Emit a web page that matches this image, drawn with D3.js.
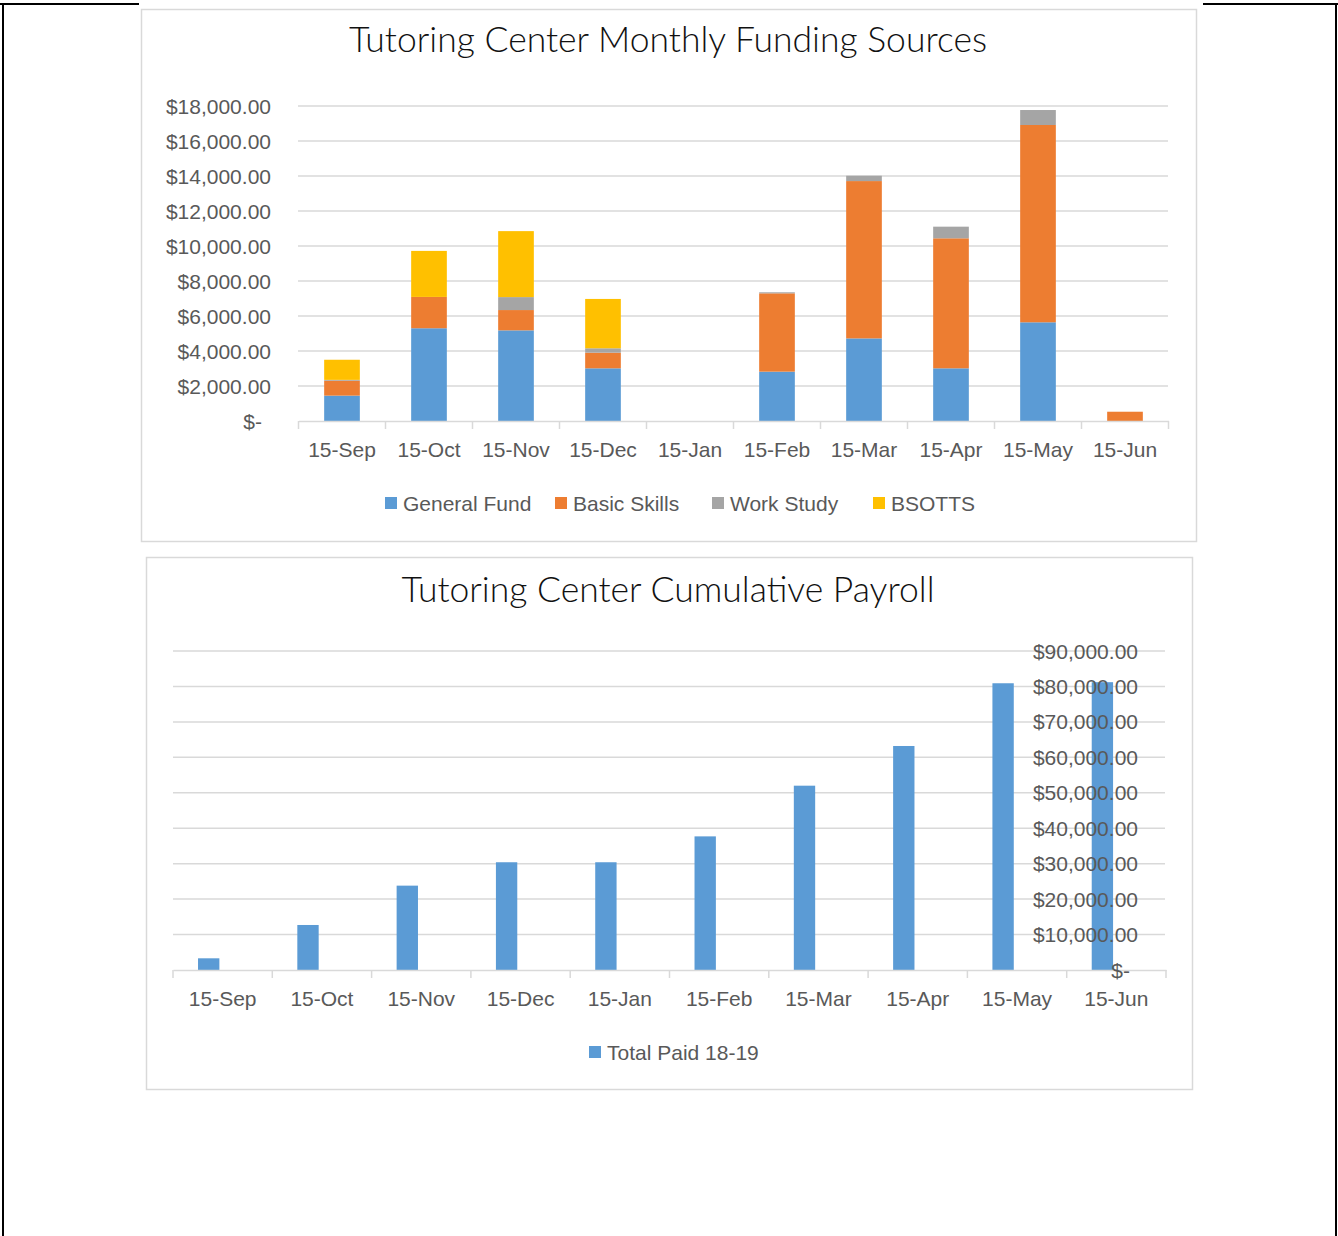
<!DOCTYPE html>
<html lang="en">
<head>
    <meta charset="utf-8">
    <title>Tutoring Center Funding</title>
    <script src="https://cdn.jsdelivr.net/npm/d3@7"></script>
</head>
<style>
    body {
        margin: 0;
        padding: 0;
        background-color: #fff;
    }
    .chart-title {
        font-family: Lato, sans-serif;
        font-size: 35.5px;
        font-weight: 300;
        fill: #111;
    }
    .tick-label, .legend {
        font-family: "Liberation Sans", Arial, sans-serif;
        font-size: 21px;
        fill: #595959;
    }
    .grid line {
        stroke: #d9d9d9;
        stroke-width: 1.5;
    }
</style>
<body>
    <svg width="1338" height="1236" id="page"></svg>

    <script>
        // data
        var months = ["15-Sep", "15-Oct", "15-Nov", "15-Dec", "15-Jan", "15-Feb", "15-Mar", "15-Apr", "15-May", "15-Jun"];
        var fundKeys = ["General Fund", "Basic Skills", "Work Study", "BSOTTS"];
        var generalFund = [1450, 5300, 5180, 3010, 0, 2820, 4720, 3010, 5640, 0];
        var basicSkills = [850, 1790, 1160, 895, 0, 4475, 8990, 7430, 11275, 530];
        var workStudy   = [50, 0, 740, 250, 0, 60, 305, 665, 855, 0];
        var bsotts      = [1150, 2630, 3770, 2820, 0, 0, 0, 0, 0, 0];
        var fundTicks = [0, 2000, 4000, 6000, 8000, 10000, 12000, 14000, 16000, 18000];

        var totalPaid = [3300, 12700, 23800, 30400, 30400, 37700, 52000, 63200, 80900, 81200];
        var payrollTicks = [0, 10000, 20000, 30000, 40000, 50000, 60000, 70000, 80000, 90000];

        var colors = d3.scaleOrdinal()
            .domain(fundKeys)
            .range(["#5b9bd5", "#ed7d31", "#a5a5a5", "#ffc000"]);

        var svg = d3.select("#page");
        var money = d3.format("$,.2f");
        function moneyLabel(v) { return v === 0 ? "$-" : money(v); }

        // page frame (table border behind the chart images)
        var frame = svg.append("g").attr("stroke", "#000").attr("stroke-width", 2);
        frame.append("line").attr("x1", 0).attr("x2", 139).attr("y1", 4).attr("y2", 4);
        frame.append("line").attr("x1", 1203).attr("x2", 1338).attr("y1", 4).attr("y2", 4);
        frame.append("line").attr("x1", 3).attr("x2", 3).attr("y1", 4).attr("y2", 1236);
        frame.append("line").attr("x1", 1336).attr("x2", 1336).attr("y1", 4).attr("y2", 1236);

        // ---------- chart 1: monthly funding sources ----------
        svg.append("rect")
            .attr("x", 141.5).attr("y", 9.5).attr("width", 1055).attr("height", 532)
            .attr("fill", "#fff").attr("stroke", "#d9d9d9").attr("stroke-width", 1.5);

        svg.append("text")
            .attr("class", "chart-title")
            .attr("x", 668).attr("y", 52)
            .attr("text-anchor", "middle")
            .text("Tutoring Center Monthly Funding Sources");

        var x1 = d3.scaleBand().domain(months).range([298.5, 1168.5]);
        var y1 = d3.scaleLinear().domain([0, 18000]).range([421, 106]);

        var g1 = svg.append("g");

        g1.append("g").attr("class", "grid")
            .selectAll("line")
            .data(fundTicks.slice(1))
            .enter().append("line")
            .attr("x1", 298).attr("x2", 1168)
            .attr("y1", function(d) { return y1(d); })
            .attr("y2", function(d) { return y1(d); });

        var fundRows = months.map(function(m, i) {
            return {
                month: m,
                "General Fund": generalFund[i],
                "Basic Skills": basicSkills[i],
                "Work Study": workStudy[i],
                "BSOTTS": bsotts[i]
            };
        });
        var stacked = d3.stack().keys(fundKeys)(fundRows);
        var barW1 = x1.bandwidth() * 0.41;

        g1.selectAll("g.series")
            .data(stacked)
            .enter().append("g")
            .attr("class", "series")
            .attr("fill", function(d) { return colors(d.key); })
            .selectAll("rect")
            .data(function(d) { return d; })
            .enter().append("rect")
            .attr("x", function(d) { return x1(d.data.month) + (x1.bandwidth() - barW1) / 2; })
            .attr("width", barW1)
            .attr("y", function(d) { return y1(d[1]); })
            .attr("height", function(d) { return y1(d[0]) - y1(d[1]); });

        // x axis
        var xAxis1 = g1.append("g")
            .attr("transform", "translate(0," + y1(0) + ")")
            .call(d3.axisBottom(x1).tickSize(0).tickPadding(21));
        xAxis1.select(".domain").attr("stroke", "#d9d9d9").attr("stroke-width", 1.5);
        xAxis1.selectAll("text").attr("class", "tick-label").attr("font-size", null).attr("font-family", null);
        xAxis1.selectAll(".bound")
            .data(months.concat(["end"]))
            .enter().append("line")
            .attr("class", "bound")
            .attr("stroke", "#d9d9d9").attr("stroke-width", 1.5)
            .attr("x1", function(d, i) { return 298.5 + i * x1.step(); })
            .attr("x2", function(d, i) { return 298.5 + i * x1.step(); })
            .attr("y1", 0).attr("y2", 8);

        // y axis labels
        g1.append("g").selectAll("text")
            .data(fundTicks)
            .enter().append("text")
            .attr("class", "tick-label")
            .attr("text-anchor", "end")
            .attr("x", function(d) { return d === 0 ? 262 : 271; })
            .attr("y", function(d) { return y1(d); })
            .attr("dy", "0.36em")
            .text(moneyLabel);

        // legend
        var legendX = [385, 555, 712, 873];
        var legend1 = g1.append("g").selectAll("g")
            .data(fundKeys)
            .enter().append("g")
            .attr("transform", function(d, i) { return "translate(" + legendX[i] + ",497)"; });
        legend1.append("rect").attr("width", 12).attr("height", 12)
            .attr("fill", function(d) { return colors(d); });
        legend1.append("text").attr("class", "legend")
            .attr("x", 18).attr("y", 6).attr("dy", "0.36em")
            .text(function(d) { return d; });

        // ---------- chart 2: cumulative payroll ----------
        svg.append("rect")
            .attr("x", 146.5).attr("y", 557.5).attr("width", 1046).attr("height", 532)
            .attr("fill", "#fff").attr("stroke", "#d9d9d9").attr("stroke-width", 1.5);

        svg.append("text")
            .attr("class", "chart-title")
            .attr("x", 668).attr("y", 602)
            .attr("text-anchor", "middle")
            .text("Tutoring Center Cumulative Payroll");

        var x2 = d3.scaleBand().domain(months).range([173, 1166]);
        var y2 = d3.scaleLinear().domain([0, 90000]).range([970, 651]);

        var g2 = svg.append("g");

        g2.append("g").attr("class", "grid")
            .selectAll("line")
            .data(payrollTicks.slice(1))
            .enter().append("line")
            .attr("x1", 173).attr("x2", 1165)
            .attr("y1", function(d) { return y2(d); })
            .attr("y2", function(d) { return y2(d); });

        g2.append("g").selectAll("rect")
            .data(totalPaid)
            .enter().append("rect")
            .attr("fill", "#5b9bd5")
            .attr("x", function(d, i) { return x2(months[i]) + x2.bandwidth() * 0.252; })
            .attr("width", x2.bandwidth() * 0.215)
            .attr("y", function(d) { return y2(d); })
            .attr("height", function(d) { return y2(0) - y2(d); });

        var xAxis2 = g2.append("g")
            .attr("transform", "translate(0," + y2(0) + ")")
            .call(d3.axisBottom(x2).tickSize(0).tickPadding(21));
        xAxis2.select(".domain").attr("stroke", "#d9d9d9").attr("stroke-width", 1.5);
        xAxis2.selectAll("text").attr("class", "tick-label").attr("font-size", null).attr("font-family", null);
        xAxis2.selectAll(".bound")
            .data(months.concat(["end"]))
            .enter().append("line")
            .attr("class", "bound")
            .attr("stroke", "#d9d9d9").attr("stroke-width", 1.5)
            .attr("x1", function(d, i) { return 173 + i * x2.step(); })
            .attr("x2", function(d, i) { return 173 + i * x2.step(); })
            .attr("y1", 0).attr("y2", 8);

        // y labels on the right, drawn over the bars
        g2.append("g").selectAll("text")
            .data(payrollTicks)
            .enter().append("text")
            .attr("class", "tick-label")
            .attr("text-anchor", "end")
            .attr("x", function(d) { return d === 0 ? 1130 : 1138; })
            .attr("y", function(d) { return y2(d); })
            .attr("dy", "0.36em")
            .text(moneyLabel);

        var legend2 = g2.append("g").attr("transform", "translate(589,1046)");
        legend2.append("rect").attr("width", 12).attr("height", 12).attr("fill", "#5b9bd5");
        legend2.append("text").attr("class", "legend")
            .attr("x", 18).attr("y", 6).attr("dy", "0.36em")
            .text("Total Paid 18-19");
    </script>
</body>
</html>
